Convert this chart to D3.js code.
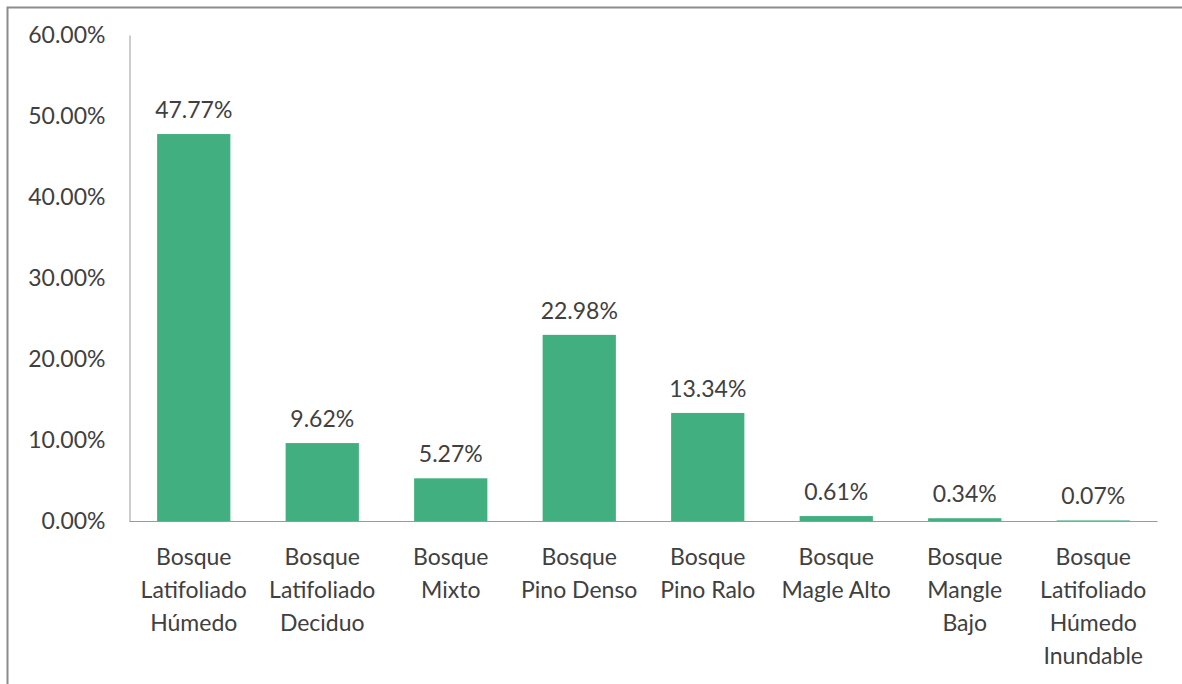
<!DOCTYPE html>
<html><head><meta charset="utf-8">
<script src="https://cdn.jsdelivr.net/npm/d3@7"></script>
<style>body{margin:0;background:#fff;} svg{display:block;}</style>
</head><body>
<script>
const categories = [
  ["Bosque","Latifoliado","Húmedo"],
  ["Bosque","Latifoliado","Deciduo"],
  ["Bosque","Mixto"],
  ["Bosque","Pino Denso"],
  ["Bosque","Pino Ralo"],
  ["Bosque","Magle Alto"],
  ["Bosque","Mangle","Bajo"],
  ["Bosque","Latifoliado","Húmedo","Inundable"]
];
const values = [47.77, 9.62, 5.27, 22.98, 13.34, 0.61, 0.34, 0.07];
const yTicks = [0, 10, 20, 30, 40, 50, 60];

(function(){
const W = 1182, H = 684;
const mLeft = 129.5, mRight = 1157.5, mTop = 35, mBottom = 521;
const font = "Lato, 'Open Sans', sans-serif";
const fs = 23;
const txt = "#404040";

const svg = d3.select("body").append("svg").attr("width", W).attr("height", H);
svg.append("rect").attr("x", 7.5).attr("y", 7.5).attr("width", W + 10).attr("height", H + 10)
  .attr("fill", "none").attr("stroke", "#8c8c8c").attr("stroke-width", 2);

const x = d3.scaleBand().domain(d3.range(categories.length)).range([mLeft, mRight]).paddingInner(0.43).paddingOuter(0.215);
const y = d3.scaleLinear().domain([0, 60]).range([mBottom, mTop]);

svg.selectAll("rect.bar").data(values).join("rect").attr("class", "bar")
  .attr("x", (d, i) => x(i)).attr("width", x.bandwidth())
  .attr("y", d => y(d)).attr("height", d => y(0) - y(d))
  .attr("fill", "#41AF80");

svg.selectAll("text.val").data(values).join("text").attr("class", "val")
  .attr("x", (d, i) => x(i) + x.bandwidth() / 2).attr("y", d => y(d) - 25)
  .attr("text-anchor", "middle").attr("dominant-baseline", "central")
  .attr("font-family", font).attr("font-size", fs).attr("fill", txt)
  .text(d => d.toFixed(2) + "%");

const yAxis = d3.axisLeft(y).tickValues(yTicks).tickSize(0).tickPadding(24).tickFormat(d => d.toFixed(2) + "%");
const gy = svg.append("g").attr("transform", `translate(${mLeft},0)`).call(yAxis);
gy.select(".domain").attr("stroke", "#9a9a9a").attr("stroke-width", 1);
gy.selectAll("text").attr("font-family", font).attr("font-size", fs).attr("fill", txt);

svg.append("line").attr("x1", mLeft).attr("x2", mRight).attr("y1", mBottom + 0.5).attr("y2", mBottom + 0.5)
  .attr("stroke", "#9a9a9a").attr("stroke-width", 1);

const g = svg.selectAll("text.cat").data(categories).join("text").attr("class", "cat")
  .attr("text-anchor", "middle").attr("font-family", font).attr("font-size", fs).attr("fill", txt);
g.selectAll("tspan").data((d, i) => d.map(s => ({s, i}))).join("tspan")
  .attr("x", d => x(d.i) + x.bandwidth() / 2)
  .attr("y", (d, j) => 556 + j * 33)
  .attr("dominant-baseline", "central")
  .text(d => d.s);
})();
</script>
</body></html>
